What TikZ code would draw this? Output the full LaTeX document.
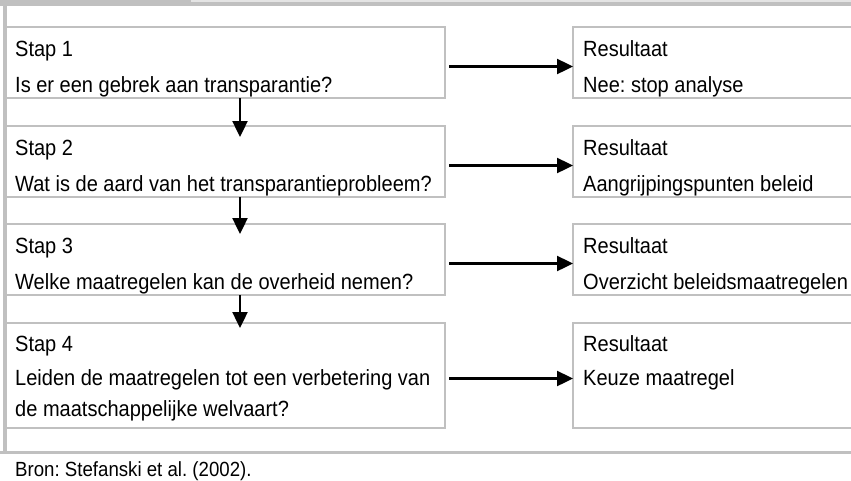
\documentclass[tikz,border=0pt]{standalone}
\usepackage{fontspec}
\setmainfont{Liberation Sans}[FakeStretch=0.91]
\usetikzlibrary{arrows.meta}
\usetikzlibrary{positioning}
\definecolor{randgrijs}{HTML}{C0C0C0}
\definecolor{lichtgrijs}{HTML}{E4E4E4}
\frenchspacing

\begin{document}
\begin{tikzpicture}[x=1pt,y=-1pt,
    kader/.style={draw=randgrijs, line width=2pt, outer sep=0pt, inner sep=0pt,
                  anchor=north west, minimum height=71pt},
    regel/.style={anchor=base west, inner sep=0pt, font=\fontsize{22}{26}\selectfont},
    pijl/.style={-{Triangle[length=16pt,width=15pt]}, line width=2.4pt}]
  \useasboundingbox (0,0) rectangle (851,480);
  % grijze balken
  \fill[randgrijs] (0,0) rectangle (191,5.5);
  \fill[lichtgrijs] (191,0) rectangle (851,2);
  \fill[randgrijs] (191,2) rectangle (851,5.5);
  \fill[randgrijs] (3,0) rectangle (7,452);
  \fill[randgrijs] (0,450.5) rectangle (851,454);
  % stappen
  \node[kader, minimum width=439pt] (s1) at (6,27) {};
  \node[kader, minimum width=439pt, below=28pt of s1] (s2) {};
  \node[kader, minimum width=439pt, below=27pt of s2] (s3) {};
  \node[kader, minimum width=439pt, minimum height=105pt, below=28pt of s3] (s4) {};
  % resultaten
  \node[kader, minimum width=282pt, right=128pt of s1] (r1) {};
  \node[kader, minimum width=282pt, right=128pt of s2] (r2) {};
  \node[kader, minimum width=282pt, right=128pt of s3] (r3) {};
  \node[kader, minimum width=282pt, minimum height=105pt, right=128pt of s4] (r4) {};
  % teksten
  \node[regel] (s1a) at ([xshift=9pt,yshift=-29pt]s1.north west) {Stap 1};
  \node[regel] (s1b) at ([yshift=-36pt]s1a.base west) {Is er een gebrek aan transparantie?};
  \node[regel] (s2a) at ([xshift=9pt,yshift=-29pt]s2.north west) {Stap 2};
  \node[regel] (s2b) at ([yshift=-36pt]s2a.base west) {Wat is de aard van het transparantieprobleem?};
  \node[regel] (s3a) at ([xshift=9pt,yshift=-29pt]s3.north west) {Stap 3};
  \node[regel] (s3b) at ([yshift=-36pt]s3a.base west) {Welke maatregelen kan de overheid nemen?};
  \node[regel] (s4a) at ([xshift=9pt,yshift=-28pt]s4.north west) {Stap 4};
  \node[regel] (s4b) at ([yshift=-34pt]s4a.base west) {Leiden de maatregelen tot een verbetering van};
  \node[regel] (s4c) at ([yshift=-31pt]s4b.base west) {de maatschappelijke welvaart?};
  \node[regel] (r1a) at ([xshift=10pt,yshift=-29pt]r1.north west) {Resultaat};
  \node[regel] (r1b) at ([yshift=-36pt]r1a.base west) {Nee: stop analyse};
  \node[regel] (r2a) at ([xshift=10pt,yshift=-29pt]r2.north west) {Resultaat};
  \node[regel] (r2b) at ([yshift=-36pt]r2a.base west) {Aangrijpingspunten beleid};
  \node[regel] (r3a) at ([xshift=10pt,yshift=-29pt]r3.north west) {Resultaat};
  \node[regel] (r3b) at ([yshift=-36pt]r3a.base west) {Overzicht beleidsmaatregelen};
  \node[regel] (r4a) at ([xshift=10pt,yshift=-28pt]r4.north west) {Resultaat};
  \node[regel] (r4b) at ([yshift=-34pt]r4a.base west) {Keuze maatregel};
  \node[regel, font=\fontsize{20.5}{24}\selectfont] (bron) at (15,476) {Bron: Stefanski et al. (2002).};
  % pijlen
  \draw[pijl, shorten <=4pt] ([yshift=-4pt]s1.east) -- ([yshift=-4pt]r1.west);
  \draw[pijl, shorten <=4pt] ([yshift=-4pt]s2.east) -- ([yshift=-4pt]r2.west);
  \draw[pijl, shorten <=4pt] ([yshift=-4pt]s3.east) -- ([yshift=-4pt]r3.west);
  \draw[pijl, shorten <=4pt] ([yshift=-3pt]s4.east) -- ([yshift=-3pt]r4.west);
  \draw[pijl, shorten >=-11pt] ([xshift=14.5pt]s1.south) -- ([xshift=14.5pt]s2.north);
  \draw[pijl, shorten >=-10pt] ([xshift=14.5pt]s2.south) -- ([xshift=14.5pt]s3.north);
  \draw[pijl, shorten >=-5pt] ([xshift=14.5pt]s3.south) -- ([xshift=14.5pt]s4.north);
\end{tikzpicture}
\end{document}
